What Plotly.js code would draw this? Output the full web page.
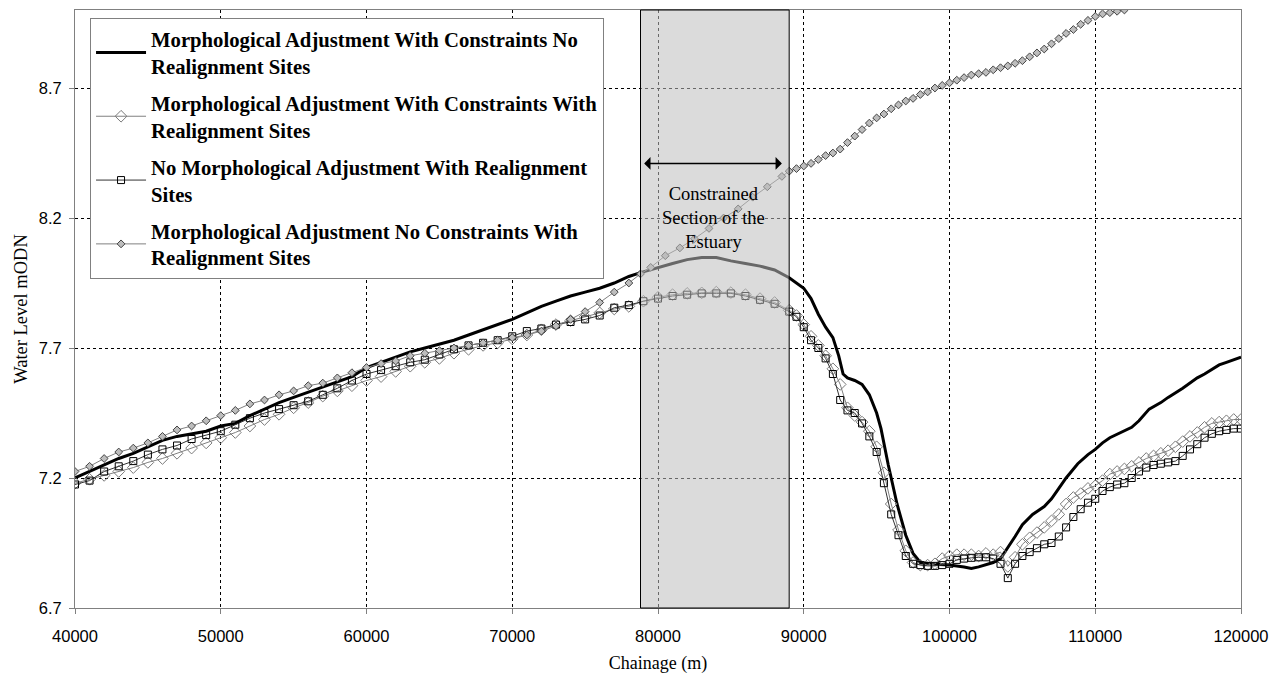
<!DOCTYPE html>
<html>
<head>
<meta charset="utf-8">
<script src="https://cdn.plot.ly/plotly-3.0.1.min.js"></script>
<style>html,body{margin:0;padding:0;background:#fff;}#chart{width:1270px;height:676px;}</style>
</head>
<body>
<div id="chart"></div>
<script>
// Series names
const names = [
  "Morphological Adjustment With Constraints No<br>Realignment Sites",
  "Morphological Adjustment With Constraints With<br>Realignment Sites",
  "No Morphological Adjustment With Realignment<br>Sites",
  "Morphological Adjustment No Constraints With<br>Realignment Sites"
];

// Series 1: With Constraints, No Realignment (thick black line)
const x1 = [40000,41000,42000,43000,44000,45000,46000,47000,48000,49000,50000,51000,52000,53000,54000,55000,56000,57000,58000,59000,60000,61000,62000,63000,64000,65000,66000,67000,68000,69000,70000,71000,72000,73000,74000,75000,76000,77000,78000,78800,80000,81000,82000,83000,84000,85000,86000,87000,88000,89000,90000,90500,91000,91500,92000,92400,92700,93000,93500,94000,94500,95000,95300,95800,96400,97000,97500,98000,99000,100000,101000,101500,102000,103000,103500,104000,104500,105000,105700,106500,107000,107500,108000,108800,109500,110000,110500,111000,112000,112500,113000,113700,114500,115000,116000,117000,117500,118500,119000,119500,120000];
const y1 = [7.20,7.225,7.25,7.275,7.295,7.32,7.345,7.36,7.37,7.38,7.40,7.41,7.44,7.465,7.49,7.51,7.53,7.55,7.57,7.59,7.625,7.645,7.665,7.685,7.70,7.715,7.73,7.75,7.77,7.79,7.81,7.835,7.86,7.88,7.90,7.915,7.93,7.95,7.975,7.99,8.01,8.025,8.04,8.048,8.048,8.035,8.025,8.015,8.00,7.97,7.93,7.89,7.83,7.78,7.74,7.67,7.60,7.585,7.575,7.56,7.52,7.45,7.39,7.25,7.10,6.98,6.91,6.875,6.868,6.865,6.858,6.852,6.858,6.875,6.89,6.93,6.975,7.02,7.06,7.09,7.12,7.16,7.20,7.255,7.29,7.31,7.335,7.355,7.38,7.395,7.42,7.465,7.49,7.51,7.545,7.585,7.60,7.635,7.645,7.655,7.665];

// Series 2: With Constraints, With Realignment (open diamonds)
const x2 = [40000,41000,42000,43000,44000,45000,46000,47000,48000,49000,50000,51000,52000,53000,54000,55000,56000,57000,58000,59000,60000,61000,62000,63000,64000,65000,66000,67000,68000,69000,70000,71000,72000,73000,74000,75000,76000,77000,78000,79000,80000,81000,82000,83000,84000,85000,86000,87000,88000,89000,89500,90000,90500,91000,91500,92000,92500,93000,93500,94000,94500,95000,95500,96000,96500,97000,97500,98000,98500,99000,99500,100000,100500,101000,101500,102000,102500,103000,103500,104000,104500,105000,105500,106000,106500,107000,107500,108000,108500,109000,109500,110000,110500,111000,111500,112000,112500,113000,113500,114000,114500,115000,115500,116000,116500,117000,117500,118000,118500,119000,119500,120000];
const y2 = [7.18,7.195,7.21,7.225,7.24,7.26,7.275,7.295,7.315,7.335,7.355,7.375,7.40,7.425,7.445,7.47,7.49,7.515,7.535,7.555,7.575,7.59,7.61,7.63,7.645,7.66,7.68,7.695,7.71,7.72,7.735,7.75,7.77,7.79,7.805,7.82,7.835,7.85,7.86,7.88,7.895,7.905,7.91,7.912,7.915,7.913,7.905,7.89,7.875,7.845,7.825,7.79,7.745,7.71,7.67,7.62,7.56,7.47,7.44,7.415,7.38,7.32,7.22,7.10,7.00,6.92,6.875,6.865,6.865,6.87,6.89,6.90,6.905,6.905,6.905,6.90,6.91,6.905,6.915,6.86,6.895,6.945,6.97,6.99,7.01,7.035,7.06,7.10,7.125,7.14,7.16,7.17,7.19,7.215,7.225,7.235,7.245,7.26,7.275,7.285,7.295,7.305,7.32,7.34,7.36,7.375,7.395,7.41,7.415,7.42,7.425,7.425];

// Series 3: No Morphological Adjustment, With Realignment (open squares)
const x3 = [40000,41000,42000,43000,44000,45000,46000,47000,48000,49000,50000,51000,52000,53000,54000,55000,56000,57000,58000,59000,60000,61000,62000,63000,64000,65000,66000,67000,68000,69000,70000,71000,72000,73000,74000,75000,76000,77000,78000,79000,80000,81000,82000,83000,84000,85000,86000,87000,88000,89000,89500,90000,90500,91000,91500,92000,92500,93000,93500,94000,94500,95000,95500,96000,96500,97000,97500,98000,98500,99000,99500,100000,100500,101000,101500,102000,102500,103000,103500,104000,104500,105000,105500,106000,106500,107000,107500,108000,108500,109000,109500,110000,110500,111000,111500,112000,112500,113000,113500,114000,114500,115000,115500,116000,116500,117000,117500,118000,118500,119000,119500,120000];
const y3 = [7.175,7.19,7.225,7.245,7.265,7.29,7.31,7.325,7.35,7.365,7.38,7.405,7.43,7.45,7.465,7.48,7.495,7.52,7.545,7.575,7.60,7.615,7.63,7.645,7.655,7.675,7.695,7.71,7.72,7.73,7.745,7.765,7.775,7.79,7.80,7.81,7.825,7.855,7.865,7.88,7.89,7.90,7.905,7.91,7.91,7.91,7.90,7.885,7.87,7.84,7.82,7.78,7.73,7.70,7.66,7.60,7.50,7.46,7.45,7.41,7.36,7.30,7.18,7.06,6.98,6.90,6.87,6.865,6.862,6.862,6.865,6.87,6.885,6.89,6.893,6.895,6.895,6.89,6.87,6.815,6.87,6.90,6.915,6.93,6.945,6.95,6.975,7.01,7.05,7.08,7.105,7.12,7.15,7.165,7.175,7.18,7.20,7.225,7.24,7.25,7.255,7.26,7.265,7.285,7.31,7.33,7.355,7.37,7.38,7.385,7.39,7.39];

// Series 4: No Constraints, With Realignment (small diamonds, upper curve)
const x4 = [40000,41000,42000,43000,44000,45000,46000,47000,48000,49000,50000,51000,52000,53000,54000,55000,56000,57000,58000,59000,60000,61000,62000,63000,64000,65000,66000,67000,68000,69000,70000,71000,72000,73000,74000,75000,76000,77000,78000,78800,79500,80500,81500,82500,83500,84500,85500,86500,87500,88500,89000,89500,90000,90500,91000,91500,92000,92500,93000,93500,94000,94500,95000,95500,96000,96500,97000,97500,98000,98500,99000,99500,100000,100500,101000,101500,102000,102500,103000,103500,104000,104500,105000,105500,106000,106500,107000,107500,108000,108500,109000,109500,110000,110500,111000,111500,112000];
const y4 = [7.225,7.245,7.275,7.30,7.315,7.335,7.36,7.385,7.40,7.42,7.44,7.46,7.485,7.50,7.52,7.535,7.555,7.565,7.585,7.605,7.625,7.64,7.65,7.67,7.68,7.69,7.70,7.71,7.72,7.73,7.74,7.75,7.765,7.785,7.81,7.84,7.875,7.915,7.95,7.985,8.01,8.055,8.085,8.12,8.16,8.20,8.235,8.28,8.32,8.36,8.38,8.39,8.40,8.41,8.425,8.44,8.45,8.465,8.49,8.515,8.54,8.565,8.585,8.60,8.62,8.635,8.65,8.66,8.675,8.685,8.70,8.71,8.72,8.73,8.74,8.75,8.755,8.76,8.77,8.778,8.785,8.795,8.805,8.82,8.835,8.85,8.87,8.89,8.91,8.925,8.945,8.96,8.975,8.985,8.99,8.995,9.0];

// Axis ticks and annotation labels
const xTicks = [40000,50000,60000,70000,80000,90000,100000,110000,120000];
const yTicks = [6.7,7.2,7.7,8.2,8.7];
const sectionLabel = "Constrained<br>Section of the<br>Estuary";
const sectionStart = 78800, sectionEnd = 89000;

const serif = "Liberation Serif, Times New Roman, serif";
const sans = "Liberation Sans, Arial, sans-serif";

const traces = [
  {x: x1, y: y1, name: names[0], mode: 'lines', legendgroup: 'a',
   line: {color: '#000', width: 3}},
  {x: x2, y: y2, name: names[1], mode: 'lines+markers', legendgroup: 'b',
   line: {color: '#808080', width: 1},
   marker: {symbol: 'diamond-open', size: 9, color: '#7a7a7a', line: {width: 1, color: '#7a7a7a'}}},
  {x: x3, y: y3, name: names[2], mode: 'lines+markers', legendgroup: 'c',
   line: {color: '#333', width: 1},
   marker: {symbol: 'square-open', size: 7, color: '#000', line: {width: 1, color: '#000'}}},
  {x: x4, y: y4, name: names[3], mode: 'lines+markers', legendgroup: 'd',
   line: {color: '#808080', width: 1},
   marker: {symbol: 'diamond', size: 6, color: '#bdbdbd', line: {width: 1, color: '#444'}}}
];

const layout = {
  width: 1270, height: 676,
  margin: {l: 75, r: 29, t: 10, b: 68},
  paper_bgcolor: '#fff', plot_bgcolor: '#fff',
  showlegend: true,
  legend: {
    x: 0.0129, y: 0.9866, xanchor: 'left', yanchor: 'top',
    bgcolor: '#fff', bordercolor: '#808080', borderwidth: 1,
    font: {family: serif, size: 20.7, color: '#000', weight: 700},
    traceorder: 'grouped', tracegroupgap: 7, itemwidth: 50
  },
  xaxis: {
    range: [40000, 120000], tickvals: xTicks, ticktext: xTicks.map(String),
    showgrid: true, gridcolor: '#000', gridwidth: 1, griddash: '3px,3px',
    zeroline: false, showline: true, linecolor: '#808080', linewidth: 1, mirror: true,
    ticks: 'outside', ticklen: 5, tickcolor: '#808080', ticklabelstandoff: 8,
    tickfont: {family: sans, size: 16.5, color: '#000'},
    title: {text: 'Chainage (m)', font: {family: serif, size: 18, color: '#000'}, standoff: 12}
  },
  yaxis: {
    range: [6.7, 9.0], tickvals: yTicks, ticktext: yTicks.map(v => v.toFixed(1)),
    showgrid: true, gridcolor: '#000', gridwidth: 1, griddash: '3px,3px',
    zeroline: false, showline: true, linecolor: '#808080', linewidth: 1, mirror: true,
    ticks: 'outside', ticklen: 5, tickcolor: '#808080', ticklabelstandoff: 4,
    tickfont: {family: sans, size: 16.5, color: '#000'},
    title: {text: 'Water Level mODN', font: {family: serif, size: 18.5, color: '#000'}, standoff: 6}
  },
  shapes: [
    {type: 'rect', xref: 'x', yref: 'paper', x0: sectionStart, x1: sectionEnd, y0: 0, y1: 1,
     layer: 'above', fillcolor: 'rgba(190,190,190,0.55)', line: {color: '#000', width: 1}}
  ],
  annotations: [
    {xref: 'x', yref: 'y', axref: 'x', ayref: 'y', x: 88500, y: 8.41, ax: 78950, ay: 8.41,
     text: '', showarrow: true, arrowside: 'end+start', arrowhead: 1, arrowsize: 1.4, arrowwidth: 1.5, arrowcolor: '#000'},
    {xref: 'x', yref: 'y', x: 83800, y: 8.2, text: sectionLabel, showarrow: false,
     font: {family: serif, size: 18.5, color: '#000'}, align: 'center'}
  ]
};

Plotly.newPlot('chart', traces, layout, {displayModeBar: false, staticPlot: true});
</script>
</body>
</html>
